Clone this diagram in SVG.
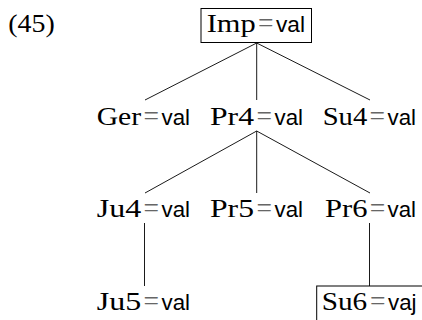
<svg xmlns="http://www.w3.org/2000/svg" width="422" height="320" viewBox="0 0 422 320">
<style>
.lbl{font-family:"Liberation Serif","Times New Roman",serif;font-size:26px;fill:#000}
.eq{fill:#666;font-size:27px}
.sf{font-family:"Liberation Sans",Arial,sans-serif;font-size:22.5px}
.edge{stroke:#000;stroke-width:0.9;fill:none}
.box{stroke:#000;stroke-width:1;fill:none}
</style>
<rect width="422" height="320" fill="#fff"/>
<text class="lbl" x="8.3" y="32" textLength="46.5" lengthAdjust="spacingAndGlyphs">(45)</text>
<g id="connectors">
<line class="edge" x1="256.7" y1="43" x2="145" y2="100"/>
<line class="edge" x1="256.7" y1="43" x2="256.7" y2="100"/>
<line class="edge" x1="256.7" y1="43" x2="370" y2="100"/>
<line class="edge" x1="256.7" y1="131" x2="145" y2="193"/>
<line class="edge" x1="256.7" y1="131" x2="256.7" y2="193"/>
<line class="edge" x1="256.7" y1="131" x2="370" y2="193"/>
<line class="edge" x1="144.5" y1="223" x2="144.5" y2="286"/>
<line class="edge" x1="369.5" y1="223" x2="369.5" y2="286"/>
</g>
<g id="imp">
<rect class="box" x="201" y="8.5" width="110.5" height="34"/>
<text class="lbl" y="32"><tspan x="206.7" textLength="49" lengthAdjust="spacingAndGlyphs">Imp</tspan><tspan class="eq" x="258" textLength="15.5" lengthAdjust="spacingAndGlyphs">=</tspan><tspan class="sf" x="276" textLength="29" lengthAdjust="spacingAndGlyphs">val</tspan></text>
</g>
<g id="ger">
<text class="lbl" y="125"><tspan x="96.7" textLength="44.5" lengthAdjust="spacingAndGlyphs">Ger</tspan><tspan class="eq" x="143.5" textLength="15.5" lengthAdjust="spacingAndGlyphs">=</tspan><tspan class="sf" x="161.5" textLength="28.5" lengthAdjust="spacingAndGlyphs">val</tspan></text>
</g>
<g id="pr4">
<text class="lbl" y="125"><tspan x="210" textLength="44" lengthAdjust="spacingAndGlyphs">Pr4</tspan><tspan class="eq" x="256.5" textLength="15.5" lengthAdjust="spacingAndGlyphs">=</tspan><tspan class="sf" x="274.5" textLength="28.5" lengthAdjust="spacingAndGlyphs">val</tspan></text>
</g>
<g id="su4">
<text class="lbl" y="125"><tspan x="322.7" textLength="44.5" lengthAdjust="spacingAndGlyphs">Su4</tspan><tspan class="eq" x="369.5" textLength="15.5" lengthAdjust="spacingAndGlyphs">=</tspan><tspan class="sf" x="387.5" textLength="28.5" lengthAdjust="spacingAndGlyphs">val</tspan></text>
</g>
<g id="ju4">
<text class="lbl" y="217"><tspan x="96.7" textLength="44.5" lengthAdjust="spacingAndGlyphs">Ju4</tspan><tspan class="eq" x="143.5" textLength="15.5" lengthAdjust="spacingAndGlyphs">=</tspan><tspan class="sf" x="161.5" textLength="28.5" lengthAdjust="spacingAndGlyphs">val</tspan></text>
</g>
<g id="pr5">
<text class="lbl" y="217"><tspan x="210" textLength="44" lengthAdjust="spacingAndGlyphs">Pr5</tspan><tspan class="eq" x="256.5" textLength="15.5" lengthAdjust="spacingAndGlyphs">=</tspan><tspan class="sf" x="274.5" textLength="28.5" lengthAdjust="spacingAndGlyphs">val</tspan></text>
</g>
<g id="pr6">
<text class="lbl" y="217"><tspan x="325" textLength="42.5" lengthAdjust="spacingAndGlyphs">Pr6</tspan><tspan class="eq" x="369.8" textLength="15.5" lengthAdjust="spacingAndGlyphs">=</tspan><tspan class="sf" x="387.5" textLength="28.5" lengthAdjust="spacingAndGlyphs">val</tspan></text>
</g>
<g id="ju5">
<text class="lbl" y="310"><tspan x="96.7" textLength="44.5" lengthAdjust="spacingAndGlyphs">Ju5</tspan><tspan class="eq" x="143.5" textLength="15.5" lengthAdjust="spacingAndGlyphs">=</tspan><tspan class="sf" x="161.5" textLength="28.5" lengthAdjust="spacingAndGlyphs">val</tspan></text>
</g>
<g id="su6">
<rect class="box" x="316.7" y="286" width="120" height="50"/>
<text class="lbl" y="310"><tspan x="321.7" textLength="45.5" lengthAdjust="spacingAndGlyphs">Su6</tspan><tspan class="eq" x="370" textLength="15.5" lengthAdjust="spacingAndGlyphs">=</tspan><tspan class="sf" x="388" textLength="28.5" lengthAdjust="spacingAndGlyphs">vaj</tspan></text>
</g>
</svg>
